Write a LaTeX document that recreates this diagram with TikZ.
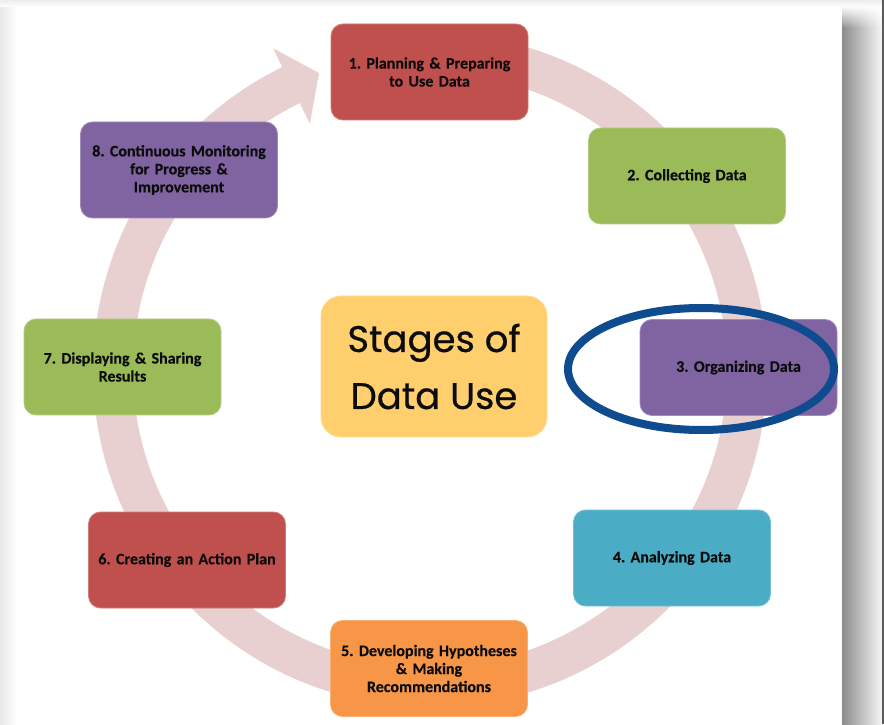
\documentclass[tikz,border=0pt]{standalone}
\usepackage{fontspec}
\setmainfont{Carlito}[BoldFeatures={FakeBold=0.4,WordSpace=0.75}]
\newfontfamily\comicfont[FakeBold=0.6]{Poppins}
\usetikzlibrary{fadings}
\definecolor{cred}{HTML}{C0504D}
\definecolor{cgreen}{HTML}{9BBB59}
\definecolor{cpurple}{HTML}{8064A2}
\definecolor{cteal}{HTML}{4BACC6}
\definecolor{corange}{HTML}{F79646}
\definecolor{cyellow}{HTML}{FFCF6E}
\definecolor{cring}{RGB}{232,208,209}
\definecolor{cblue}{RGB}{14,76,143}
\definecolor{ctext}{RGB}{12,12,12}
\frenchspacing
\tikzset{
  stagebox/.style={rounded corners=12pt, minimum width=197pt, minimum height=96pt,
    text width=194pt, align=center, fill=#1, draw=#1!75!white, line width=0.8pt,
    font=\bfseries\fontsize{16}{18}\selectfont, text=ctext, inner sep=0pt},
  centerbox/.style={rounded corners=20pt, minimum width=226pt, minimum height=141pt,
    fill=cyellow, draw=cyellow!75!white, line width=0.8pt, align=center,
    font=\comicfont\fontsize{37}{57}\selectfont, text=ctext, inner sep=0pt},
  ringstyle/.style={fill=cring},
  highlight/.style={draw=cblue, line width=8pt}
}
\begin{document}
\begin{tikzpicture}[x=1pt,y=1pt]
\useasboundingbox (0,0) rectangle (884,724);
% frame and shadow
\fill[white] (0,0) rectangle (884,724);
\shade[left color=black!9, right color=white] (0,0) rectangle (17,724);
\shade[top color=black!7, bottom color=white] (0,717) rectangle (884,724);
\shade[left color=black!45, right color=black!4] (842,0) rectangle (881.5,696);
\shade[left color=black!45, right color=black!4, path fading=north] (842,696) rectangle (881.5,718);
\fill[black!65] (881.5,0) rectangle (884,724);
% ring arrow
\coordinate (rc) at (430,354);
\fill[ringstyle] ([shift={(rc)}]85:337pt) arc[start angle=85,end angle=-244,radius=337pt]
  -- ([shift={(rc)}]-244:358pt) -- ([shift={(rc)}]-249.5:317pt) -- ([shift={(rc)}]-244:274pt)
  -- ([shift={(rc)}]-244:297pt) arc[start angle=-244,end angle=85,radius=297pt] -- cycle;
% stages
\node[stagebox=cred]    (n1) at (429.5,652) {1. Planning \& Preparing\\to Use Data};
\node[stagebox=cgreen]  (n2) at (687,548)   {2. Collecting Data};
\node[stagebox=cpurple] (n3) at (738.5,356.5) {3. Organizing Data};
\node[stagebox=cteal]   (n4) at (672,166)   {4. Analyzing Data};
\node[stagebox=corange] (n5) at (429,55.5)  {5. Developing Hypotheses\\\& Making\\Recommendations};
\node[stagebox=cred]    (n6) at (187,164)   {6. Creating an Action Plan};
\node[stagebox=cgreen]  (n7) at (122.5,357) {7. Displaying \& Sharing\\Results};
\node[stagebox=cpurple] (n8) at (179,554)   {8. Continuous Monitoring\\for Progress \&\\Improvement};
\node[centerbox] (c) at (434,357.5) {Stages of\\Data Use};
% highlight ellipse
\draw[highlight] (701,355) ellipse[x radius=133, y radius=61];
\end{tikzpicture}
\end{document}
